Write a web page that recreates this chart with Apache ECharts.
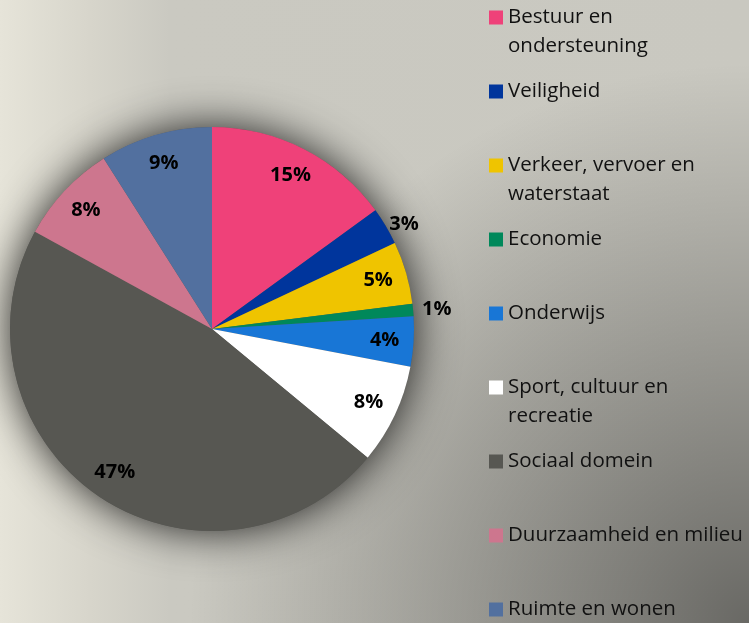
<!DOCTYPE html>
<html><head><meta charset="utf-8">
<script src="https://cdn.jsdelivr.net/npm/echarts@6/dist/echarts.min.js"></script>
<style>
html,body{margin:0;padding:0;width:749px;height:623px;overflow:hidden;}
body{background:
 radial-gradient(circle 560px at 100% 100%, rgba(0,0,0,0.48), rgba(0,0,0,0) 100%),
 linear-gradient(to right, #e6e4d9 0px, #d7d5cb 90px, #cac9c1 170px, #c9c8c0 100%);}
#chart{width:749px;height:623px;}
</style></head><body><div id="chart"></div>
<script>
const categories = ['Bestuur en ondersteuning','Veiligheid','Verkeer, vervoer en waterstaat','Economie','Onderwijs','Sport, cultuur en recreatie','Sociaal domein','Duurzaamheid en milieu','Ruimte en wonen'];
const values = [15, 3, 5, 1, 4, 8, 47, 8, 9];
const legendLabels = ['Bestuur en\nondersteuning','Veiligheid\n ','Verkeer, vervoer en\nwaterstaat','Economie\n ','Onderwijs\n ','Sport, cultuur en\nrecreatie','Sociaal domein\n ','Duurzaamheid en milieu\n ','Ruimte en wonen\n '];
const colors = ['#ef4179','#00359c','#efc400','#00885a','#1876d6','#ffffff','#575752','#cd768e','#52709f'];
const outsideLabels = {'Veiligheid': 4, 'Economie': 4};
const outsideGap = {'Veiligheid': 0, 'Economie': 5};

const chart = echarts.init(document.getElementById('chart'), null, {renderer:'canvas'});
const CENTER = [212, 329];
const R = 202;
const FONT = '"Open Sans", "Liberation Sans", sans-serif';

const sliceData = categories.map((n,i)=>({name:n, value:values[i], itemStyle:{color:colors[i]}}));
const labelData = categories.map((n,i)=>{
  const d = {name:n, value:values[i]};
  if (outsideLabels[n] !== undefined) {
    d.label = {position:'outside', distanceToLabelLine: outsideGap[n]};
    d.labelLine = {show:false, length: outsideLabels[n], length2: 0};
  }
  return d;
});

chart.setOption({
  backgroundColor:'transparent',
  animation:false,
  legend:{
    orient:'vertical', left:489, top:3, height:720, padding:0,
    itemWidth:14, itemHeight:43, itemGap:16,
    icon:'path://M0,0h14v14h-14z M0,43',
    data:categories,
    formatter:(name)=>legendLabels[categories.indexOf(name)],
    textStyle:{fontFamily:FONT, fontSize:20.5, lineHeight:29, color:'#111111'}
  },
  series:[
    {
      type:'pie', name:'shadow', center:CENTER, radius:R, silent:true, z:1,
      data:[{name:'', value:1}],
      label:{show:false}, labelLine:{show:false},
      itemStyle:{color:'#5a5a56', shadowBlur:44, shadowColor:'rgba(0,0,0,0.85)'},
      emphasis:{disabled:true}
    },
    {
      type:'pie', name:'Begroting', center:CENTER, radius:R, startAngle:90, clockwise:true, z:2,
      data:sliceData,
      label:{show:false}, labelLine:{show:false},
      itemStyle:{borderWidth:0},
      emphasis:{disabled:true}
    },
    {
      type:'pie', name:'Labels', center:CENTER, radius:[138, R], startAngle:90, clockwise:true, z:3,
      silent:true, avoidLabelOverlap:false,
      data:labelData,
      itemStyle:{color:'rgba(0,0,0,0)'},
      label:{show:true, position:'inside', formatter:'{c}%', fontFamily:FONT, fontWeight:'bold', fontSize:20, color:'#000000'},
      labelLine:{show:false},
      emphasis:{disabled:true}
    }
  ]
});
</script></body></html>
